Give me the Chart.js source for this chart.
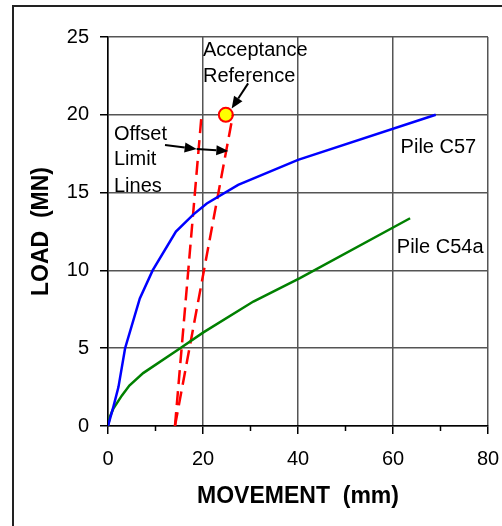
<!DOCTYPE html>
<html><head><meta charset="utf-8">
<script src="https://cdn.jsdelivr.net/npm/chart.js@4.4.1/dist/chart.umd.min.js"></script>
<style>html,body{margin:0;padding:0;background:#fff;overflow:hidden}</style>
</head><body>
<canvas id="c" width="502" height="526"></canvas>
<script>
// ---- data ----
const c57X = [0, 1.1, 2.2, 3.6, 6.7, 9.4, 14.3, 18, 20.8, 27.4, 40, 69];
const c57Y = [0, 1.2, 2.5, 5, 8.2, 10, 12.5, 13.6, 14.3, 15.5, 17.1, 20];
const c54X = [0, 0.4, 1.1, 2.9, 4.5, 7.4, 15.2, 20, 30.6, 40.4, 63.6];
const c54Y = [0, 0.6, 1.1, 1.95, 2.6, 3.4, 5, 6, 8, 9.5, 13.35];
const offsetLine1X = [14.1, 19.7];
const offsetLine1Y = [0, 20];
const offsetLine2X = [14.1, 26.3];
const offsetLine2Y = [0, 20];
const acceptanceX = [24.8];
const acceptanceY = [20];
const xTicks = [0, 20, 40, 60, 80];
const xMinorTicks = [10, 30, 50, 70];
const yTicks = [0, 5, 10, 15, 20, 25];
const xTitle = "MOVEMENT  (mm)";
const yTitle = "LOAD  (MN)";
// text labels: [text, x, y] in data units (x = left edge, y = baseline)
const textLabels = [
  ["Acceptance", 20.0, 23.78],
  ["Reference", 20.0, 22.1],
  ["Offset", 1.26, 18.38],
  ["Limit", 1.26, 16.77],
  ["Lines", 1.26, 15.04],
  ["Pile C57", 61.6, 17.55],
  ["Pile C54a", 60.8, 11.14]
];
// arrows: [fromX, fromY, toX, toY] in data units
const arrows = [
  [29.5, 22.02, 26.04, 20.4],
  [12.0, 18.06, 18.67, 17.8],
  [18.67, 17.8, 25.33, 17.67]
];

const FONT = "Arial, 'Liberation Sans', sans-serif";
function pts(xs, ys){ return xs.map((x,i)=>({x:x, y:ys[i]})); }

const overlay = {
  id: 'overlay',
  afterDatasetsDraw(chart){
    const ctx = chart.ctx, xs = chart.scales.x, ys = chart.scales.y;
    ctx.save();
    // minor x ticks
    ctx.strokeStyle = '#000'; ctx.lineWidth = 1.5;
    xMinorTicks.forEach(v=>{
      const px = xs.getPixelForValue(v);
      ctx.beginPath(); ctx.moveTo(px, ys.bottom); ctx.lineTo(px, ys.bottom+5); ctx.stroke();
    });
    // arrows
    ctx.strokeStyle = '#000'; ctx.fillStyle = '#000'; ctx.lineWidth = 2;
    arrows.forEach(a=>{
      const x1 = xs.getPixelForValue(a[0]), y1 = ys.getPixelForValue(a[1]);
      const x2 = xs.getPixelForValue(a[2]), y2 = ys.getPixelForValue(a[3]);
      const ang = Math.atan2(y2-y1, x2-x1);
      const L = 12, W = 5;
      const bx = x2 - L*Math.cos(ang), by = y2 - L*Math.sin(ang);
      ctx.beginPath(); ctx.moveTo(x1,y1); ctx.lineTo(bx,by); ctx.stroke();
      ctx.beginPath();
      ctx.moveTo(x2,y2);
      ctx.lineTo(bx + W*Math.sin(ang), by - W*Math.cos(ang));
      ctx.lineTo(bx - W*Math.sin(ang), by + W*Math.cos(ang));
      ctx.closePath(); ctx.fill();
    });
    // texts
    ctx.font = "20px " + FONT; ctx.fillStyle = '#000';
    ctx.textAlign = 'left'; ctx.textBaseline = 'alphabetic';
    textLabels.forEach(t=>{
      ctx.fillText(t[0], xs.getPixelForValue(t[1]), ys.getPixelForValue(t[2]));
    });
    ctx.restore();
  },
  afterDraw(chart){
    const ctx = chart.ctx, ca = chart.chartArea;
    ctx.save();
    // outer frame
    ctx.strokeStyle = '#222'; ctx.lineWidth = 2;
    ctx.beginPath(); ctx.moveTo(13, 526); ctx.lineTo(13, 6); ctx.lineTo(502, 6); ctx.stroke();
    // axis titles
    ctx.fillStyle = '#000';
    ctx.font = "bold 23px " + FONT;
    ctx.textAlign = 'center'; ctx.textBaseline = 'alphabetic';
    ctx.fillText(xTitle, (ca.left+ca.right)/2, 503);
    ctx.translate(48, (ca.top+ca.bottom)/2);
    ctx.rotate(-Math.PI/2);
    ctx.fillText(yTitle, 0, 0);
    ctx.restore();
  }
};

const gridColor = '#555';
new Chart(document.getElementById('c'), {
  type: 'scatter',
  data: {
    datasets: [
      { label: 'Pile C57', data: pts(c57X, c57Y), showLine: true, borderColor: '#0000FF', borderWidth: 2.5, pointRadius: 0, tension: 0 },
      { label: 'Pile C54a', data: pts(c54X, c54Y), showLine: true, borderColor: '#008000', borderWidth: 2.5, pointRadius: 0, tension: 0 },
      { label: 'Offset 1', data: pts(offsetLine1X, offsetLine1Y), showLine: true, borderColor: '#FF0000', borderWidth: 2.5, borderDash: [14, 7], pointRadius: 0 },
      { label: 'Offset 2', data: pts(offsetLine2X, offsetLine2Y), showLine: true, borderColor: '#FF0000', borderWidth: 2.5, borderDash: [14, 7], pointRadius: 0 },
      { label: 'Acceptance', data: pts(acceptanceX, acceptanceY), showLine: false, pointRadius: 7, pointBackgroundColor: '#FFFF00', pointBorderColor: '#FF0000', pointBorderWidth: 2 },
      { label: 'Acceptance centre', data: pts(acceptanceX, acceptanceY), showLine: false, pointRadius: 3, pointBackgroundColor: '#FF0000', pointBorderColor: '#FF0000', pointBorderWidth: 0 }
    ]
  },
  options: {
    responsive: false,
    animation: false,
    layout: { padding: { left: 0, top: 37, right: 14, bottom: 0 } },
    plugins: { legend: { display: false }, tooltip: { enabled: false } },
    scales: {
      x: {
        type: 'linear', min: 0, max: 80,
        afterFit(s){ s.height = 100; s.paddingLeft = 0; s.paddingRight = 0; },
        afterBuildTicks(s){ s.ticks = xTicks.map(v=>({value:v})); },
        ticks: { font: { family: FONT, size: 20 }, color: '#000', padding: 13, maxRotation: 0 },
        grid: { color: gridColor, lineWidth: 1.5, drawTicks: true, tickLength: 8, tickColor: '#000', tickWidth: 1.5 },
        border: { display: true, color: '#000', width: 1.5 }
      },
      y: {
        type: 'linear', min: 0, max: 25,
        afterFit(s){ s.width = 108; s.paddingTop = 0; s.paddingBottom = 0; },
        afterBuildTicks(s){ s.ticks = yTicks.map(v=>({value:v})); },
        ticks: { font: { family: FONT, size: 20 }, color: '#000', padding: 11 },
        grid: { color: gridColor, lineWidth: 1.5, drawTicks: true, tickLength: 8, tickColor: '#000', tickWidth: 1.5 },
        border: { display: true, color: '#000', width: 1.5 }
      }
    }
  },
  plugins: [overlay]
});
</script>
</body></html>
